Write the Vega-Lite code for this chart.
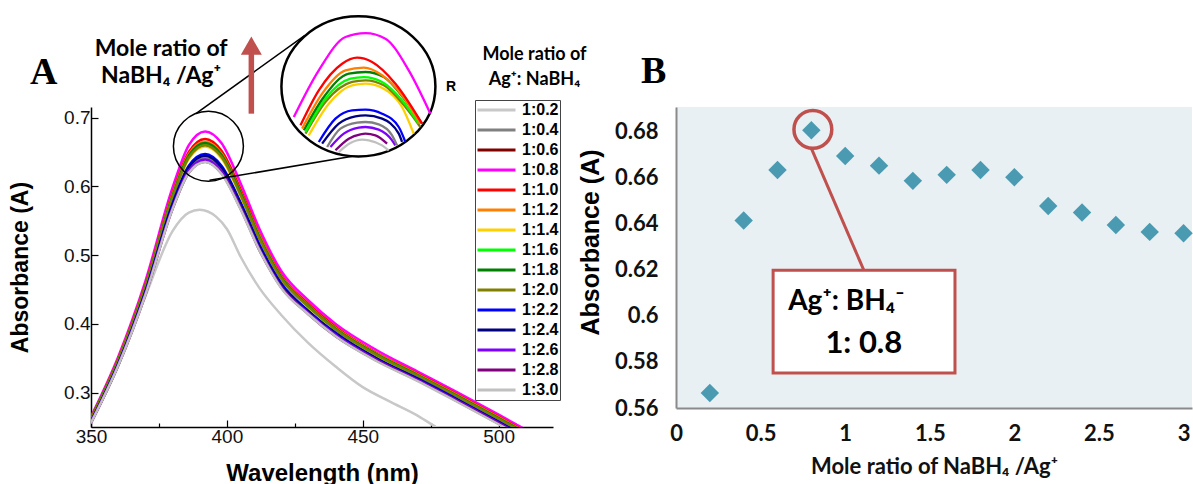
{
  "$schema": "https://vega.github.io/schema/vega-lite/v6.json",
  "padding": {"left": 9, "top": 11, "right": 0, "bottom": 0},
  "background": "white",
  "bounds": "flush",
  "spacing": 123,
  "config": {"view": {"stroke": null}, "font": "Liberation Sans", "axis": {"grid": false}},
  "hconcat": [
    {
      "width": 462,
      "height": 320,
      "layer": [
        {
          "data": {"values": [
            {"s":"1:0.2","w":350,"a":0.255},{"s":"1:0.2","w":360,"a":0.340},{"s":"1:0.2","w":370,"a":0.440},{"s":"1:0.2","w":380,"a":0.535},{"s":"1:0.2","w":386,"a":0.562},{"s":"1:0.2","w":390,"a":0.566},{"s":"1:0.2","w":396,"a":0.556},{"s":"1:0.2","w":400,"a":0.538},{"s":"1:0.2","w":405,"a":0.498},{"s":"1:0.2","w":412,"a":0.452},{"s":"1:0.2","w":420,"a":0.413},{"s":"1:0.2","w":430,"a":0.372},{"s":"1:0.2","w":440,"a":0.338},{"s":"1:0.2","w":450,"a":0.308},{"s":"1:0.2","w":460,"a":0.287},{"s":"1:0.2","w":470,"a":0.267},{"s":"1:0.2","w":477,"a":0.250},{"s":"1:0.2","w":485,"a":0.236},
            {"s":"1:0.4","w":350,"a":0.257},{"s":"1:0.4","w":360,"a":0.340},{"s":"1:0.4","w":370,"a":0.444},{"s":"1:0.4","w":380,"a":0.571},{"s":"1:0.4","w":386,"a":0.625},{"s":"1:0.4","w":392,"a":0.641},{"s":"1:0.4","w":398,"a":0.624},{"s":"1:0.4","w":405,"a":0.572},{"s":"1:0.4","w":412,"a":0.511},{"s":"1:0.4","w":420,"a":0.456},{"s":"1:0.4","w":430,"a":0.416},{"s":"1:0.4","w":440,"a":0.384},{"s":"1:0.4","w":455,"a":0.348},{"s":"1:0.4","w":470,"a":0.319},{"s":"1:0.4","w":485,"a":0.288},{"s":"1:0.4","w":500,"a":0.256},{"s":"1:0.4","w":510,"a":0.234},
            {"s":"1:0.6","w":350,"a":0.262},{"s":"1:0.6","w":360,"a":0.347},{"s":"1:0.6","w":370,"a":0.454},{"s":"1:0.6","w":380,"a":0.586},{"s":"1:0.6","w":386,"a":0.645},{"s":"1:0.6","w":392,"a":0.663},{"s":"1:0.6","w":398,"a":0.646},{"s":"1:0.6","w":405,"a":0.591},{"s":"1:0.6","w":412,"a":0.526},{"s":"1:0.6","w":420,"a":0.468},{"s":"1:0.6","w":430,"a":0.426},{"s":"1:0.6","w":440,"a":0.393},{"s":"1:0.6","w":455,"a":0.356},{"s":"1:0.6","w":470,"a":0.326},{"s":"1:0.6","w":485,"a":0.295},{"s":"1:0.6","w":500,"a":0.263},{"s":"1:0.6","w":510,"a":0.241},
            {"s":"1:0.8","w":350,"a":0.265},{"s":"1:0.8","w":360,"a":0.352},{"s":"1:0.8","w":370,"a":0.462},{"s":"1:0.8","w":380,"a":0.598},{"s":"1:0.8","w":386,"a":0.660},{"s":"1:0.8","w":392,"a":0.680},{"s":"1:0.8","w":398,"a":0.663},{"s":"1:0.8","w":405,"a":0.605},{"s":"1:0.8","w":412,"a":0.538},{"s":"1:0.8","w":420,"a":0.477},{"s":"1:0.8","w":430,"a":0.434},{"s":"1:0.8","w":440,"a":0.400},{"s":"1:0.8","w":455,"a":0.362},{"s":"1:0.8","w":470,"a":0.331},{"s":"1:0.8","w":485,"a":0.300},{"s":"1:0.8","w":500,"a":0.268},{"s":"1:0.8","w":510,"a":0.246},
            {"s":"1:1.0","w":350,"a":0.263},{"s":"1:1.0","w":360,"a":0.349},{"s":"1:1.0","w":370,"a":0.457},{"s":"1:1.0","w":380,"a":0.590},{"s":"1:1.0","w":386,"a":0.650},{"s":"1:1.0","w":392,"a":0.669},{"s":"1:1.0","w":398,"a":0.652},{"s":"1:1.0","w":405,"a":0.596},{"s":"1:1.0","w":412,"a":0.530},{"s":"1:1.0","w":420,"a":0.471},{"s":"1:1.0","w":430,"a":0.429},{"s":"1:1.0","w":440,"a":0.396},{"s":"1:1.0","w":455,"a":0.358},{"s":"1:1.0","w":470,"a":0.328},{"s":"1:1.0","w":485,"a":0.297},{"s":"1:1.0","w":500,"a":0.265},{"s":"1:1.0","w":510,"a":0.243},
            {"s":"1:1.2","w":350,"a":0.262},{"s":"1:1.2","w":360,"a":0.348},{"s":"1:1.2","w":370,"a":0.455},{"s":"1:1.2","w":380,"a":0.588},{"s":"1:1.2","w":386,"a":0.647},{"s":"1:1.2","w":392,"a":0.665},{"s":"1:1.2","w":398,"a":0.648},{"s":"1:1.2","w":405,"a":0.592},{"s":"1:1.2","w":412,"a":0.528},{"s":"1:1.2","w":420,"a":0.469},{"s":"1:1.2","w":430,"a":0.427},{"s":"1:1.2","w":440,"a":0.394},{"s":"1:1.2","w":455,"a":0.357},{"s":"1:1.2","w":470,"a":0.327},{"s":"1:1.2","w":485,"a":0.296},{"s":"1:1.2","w":500,"a":0.264},{"s":"1:1.2","w":510,"a":0.242},
            {"s":"1:1.4","w":350,"a":0.261},{"s":"1:1.4","w":360,"a":0.345},{"s":"1:1.4","w":370,"a":0.452},{"s":"1:1.4","w":380,"a":0.583},{"s":"1:1.4","w":386,"a":0.640},{"s":"1:1.4","w":392,"a":0.658},{"s":"1:1.4","w":398,"a":0.641},{"s":"1:1.4","w":405,"a":0.586},{"s":"1:1.4","w":412,"a":0.523},{"s":"1:1.4","w":420,"a":0.465},{"s":"1:1.4","w":430,"a":0.424},{"s":"1:1.4","w":440,"a":0.391},{"s":"1:1.4","w":455,"a":0.354},{"s":"1:1.4","w":470,"a":0.324},{"s":"1:1.4","w":485,"a":0.293},{"s":"1:1.4","w":500,"a":0.261},{"s":"1:1.4","w":510,"a":0.239},
            {"s":"1:1.6","w":350,"a":0.261},{"s":"1:1.6","w":360,"a":0.346},{"s":"1:1.6","w":370,"a":0.453},{"s":"1:1.6","w":380,"a":0.585},{"s":"1:1.6","w":386,"a":0.643},{"s":"1:1.6","w":392,"a":0.661},{"s":"1:1.6","w":398,"a":0.644},{"s":"1:1.6","w":405,"a":0.589},{"s":"1:1.6","w":412,"a":0.525},{"s":"1:1.6","w":420,"a":0.467},{"s":"1:1.6","w":430,"a":0.425},{"s":"1:1.6","w":440,"a":0.392},{"s":"1:1.6","w":455,"a":0.355},{"s":"1:1.6","w":470,"a":0.325},{"s":"1:1.6","w":485,"a":0.294},{"s":"1:1.6","w":500,"a":0.262},{"s":"1:1.6","w":510,"a":0.240},
            {"s":"1:1.8","w":350,"a":0.262},{"s":"1:1.8","w":360,"a":0.347},{"s":"1:1.8","w":370,"a":0.454},{"s":"1:1.8","w":380,"a":0.586},{"s":"1:1.8","w":386,"a":0.645},{"s":"1:1.8","w":392,"a":0.663},{"s":"1:1.8","w":398,"a":0.646},{"s":"1:1.8","w":405,"a":0.591},{"s":"1:1.8","w":412,"a":0.526},{"s":"1:1.8","w":420,"a":0.468},{"s":"1:1.8","w":430,"a":0.426},{"s":"1:1.8","w":440,"a":0.393},{"s":"1:1.8","w":455,"a":0.356},{"s":"1:1.8","w":470,"a":0.326},{"s":"1:1.8","w":485,"a":0.295},{"s":"1:1.8","w":500,"a":0.263},{"s":"1:1.8","w":510,"a":0.241},
            {"s":"1:2.0","w":350,"a":0.261},{"s":"1:2.0","w":360,"a":0.346},{"s":"1:2.0","w":370,"a":0.453},{"s":"1:2.0","w":380,"a":0.584},{"s":"1:2.0","w":386,"a":0.642},{"s":"1:2.0","w":392,"a":0.660},{"s":"1:2.0","w":398,"a":0.643},{"s":"1:2.0","w":405,"a":0.588},{"s":"1:2.0","w":412,"a":0.524},{"s":"1:2.0","w":420,"a":0.466},{"s":"1:2.0","w":430,"a":0.425},{"s":"1:2.0","w":440,"a":0.392},{"s":"1:2.0","w":455,"a":0.355},{"s":"1:2.0","w":470,"a":0.325},{"s":"1:2.0","w":485,"a":0.294},{"s":"1:2.0","w":500,"a":0.262},{"s":"1:2.0","w":510,"a":0.240},
            {"s":"1:2.2","w":350,"a":0.258},{"s":"1:2.2","w":360,"a":0.342},{"s":"1:2.2","w":370,"a":0.447},{"s":"1:2.2","w":380,"a":0.575},{"s":"1:2.2","w":386,"a":0.630},{"s":"1:2.2","w":392,"a":0.647},{"s":"1:2.2","w":398,"a":0.630},{"s":"1:2.2","w":405,"a":0.577},{"s":"1:2.2","w":412,"a":0.515},{"s":"1:2.2","w":420,"a":0.459},{"s":"1:2.2","w":430,"a":0.419},{"s":"1:2.2","w":440,"a":0.387},{"s":"1:2.2","w":455,"a":0.350},{"s":"1:2.2","w":470,"a":0.321},{"s":"1:2.2","w":485,"a":0.290},{"s":"1:2.2","w":500,"a":0.258},{"s":"1:2.2","w":510,"a":0.236},
            {"s":"1:2.4","w":350,"a":0.258},{"s":"1:2.4","w":360,"a":0.341},{"s":"1:2.4","w":370,"a":0.446},{"s":"1:2.4","w":380,"a":0.573},{"s":"1:2.4","w":386,"a":0.628},{"s":"1:2.4","w":392,"a":0.6445},{"s":"1:2.4","w":398,"a":0.6275},{"s":"1:2.4","w":405,"a":0.575},{"s":"1:2.4","w":412,"a":0.513},{"s":"1:2.4","w":420,"a":0.457},{"s":"1:2.4","w":430,"a":0.418},{"s":"1:2.4","w":440,"a":0.386},{"s":"1:2.4","w":455,"a":0.350},{"s":"1:2.4","w":470,"a":0.320},{"s":"1:2.4","w":485,"a":0.289},{"s":"1:2.4","w":500,"a":0.257},{"s":"1:2.4","w":510,"a":0.235},
            {"s":"1:2.6","w":350,"a":0.257},{"s":"1:2.6","w":360,"a":0.340},{"s":"1:2.6","w":370,"a":0.444},{"s":"1:2.6","w":380,"a":0.569},{"s":"1:2.6","w":386,"a":0.623},{"s":"1:2.6","w":392,"a":0.639},{"s":"1:2.6","w":398,"a":0.622},{"s":"1:2.6","w":405,"a":0.570},{"s":"1:2.6","w":412,"a":0.509},{"s":"1:2.6","w":420,"a":0.454},{"s":"1:2.6","w":430,"a":0.416},{"s":"1:2.6","w":440,"a":0.384},{"s":"1:2.6","w":455,"a":0.348},{"s":"1:2.6","w":470,"a":0.319},{"s":"1:2.6","w":485,"a":0.288},{"s":"1:2.6","w":500,"a":0.256},{"s":"1:2.6","w":510,"a":0.234},
            {"s":"1:2.8","w":350,"a":0.256},{"s":"1:2.8","w":360,"a":0.339},{"s":"1:2.8","w":370,"a":0.442},{"s":"1:2.8","w":380,"a":0.567},{"s":"1:2.8","w":386,"a":0.620},{"s":"1:2.8","w":392,"a":0.636},{"s":"1:2.8","w":398,"a":0.619},{"s":"1:2.8","w":405,"a":0.568},{"s":"1:2.8","w":412,"a":0.507},{"s":"1:2.8","w":420,"a":0.453},{"s":"1:2.8","w":430,"a":0.414},{"s":"1:2.8","w":440,"a":0.382},{"s":"1:2.8","w":455,"a":0.347},{"s":"1:2.8","w":470,"a":0.318},{"s":"1:2.8","w":485,"a":0.287},{"s":"1:2.8","w":500,"a":0.255},{"s":"1:2.8","w":510,"a":0.233},
            {"s":"1:3.0","w":350,"a":0.256},{"s":"1:3.0","w":360,"a":0.339},{"s":"1:3.0","w":370,"a":0.442},{"s":"1:3.0","w":380,"a":0.567},{"s":"1:3.0","w":386,"a":0.620},{"s":"1:3.0","w":392,"a":0.6355},{"s":"1:3.0","w":398,"a":0.6185},{"s":"1:3.0","w":405,"a":0.567},{"s":"1:3.0","w":412,"a":0.507},{"s":"1:3.0","w":420,"a":0.452},{"s":"1:3.0","w":430,"a":0.414},{"s":"1:3.0","w":440,"a":0.382},{"s":"1:3.0","w":455,"a":0.346},{"s":"1:3.0","w":470,"a":0.317},{"s":"1:3.0","w":485,"a":0.286},{"s":"1:3.0","w":500,"a":0.254},{"s":"1:3.0","w":510,"a":0.232}
          ]},
          "mark": {"type": "line", "interpolate": "monotone", "strokeWidth": 2.5, "clip": true},
          "encoding": {
            "x": {"field": "w", "type": "quantitative", "scale": {"domain": [350, 520], "nice": false, "zero": false},
              "axis": {"title": "Wavelength (nm)", "values": [350, 375, 400, 425, 450, 475, 500],
                "labelExpr": "datum.value % 50 == 0 ? datum.label : ''", "labelFlush": false,
                "tickSize": {"condition": {"test": "datum.value % 50 == 0", "value": -7}, "value": -4},
                "tickColor": "#000", "tickWidth": 1.2, "domainColor": "#000", "domainWidth": 1.5,
                "labelFont": "Liberation Sans", "labelFontSize": 19, "labelColor": "#111", "labelPadding": 7,
                "titleFont": "Liberation Sans", "titleFontSize": 24, "titleFontWeight": "bold", "titleColor": "#000",
                "titleY": 46, "titleBaseline": "middle"}},
            "y": {"field": "a", "type": "quantitative", "scale": {"domain": [0.25, 0.7155], "nice": false, "zero": false},
              "axis": {"title": "Absorbance (A)", "values": [0.3, 0.35, 0.4, 0.45, 0.5, 0.55, 0.6, 0.65, 0.7],
                "labelExpr": "abs(datum.value*10-round(datum.value*10)) < 0.001 ? format(datum.value, '.1f') : ''", "labelFlush": false,
                "tickSize": {"condition": {"test": "abs(datum.value*10-round(datum.value*10)) < 0.001", "value": -7}, "value": -4},
                "tickColor": "#000", "tickWidth": 1.2, "domainColor": "#000", "domainWidth": 1.5,
                "labelFont": "Liberation Sans", "labelFontSize": 19, "labelColor": "#111", "labelPadding": 8,
                "titleFont": "Liberation Sans", "titleFontSize": 23, "titleFontWeight": "bold", "titleColor": "#000",
                "titleX": -71, "titleBaseline": "middle"}},
            "color": {"field": "s", "type": "nominal",
              "scale": {"domain": ["1:0.2","1:0.4","1:0.6","1:0.8","1:1.0","1:1.2","1:1.4","1:1.6","1:1.8","1:2.0","1:2.2","1:2.4","1:2.6","1:2.8","1:3.0"],
                "range": ["#c8c8c8","#808080","#800000","#ff00ff","#ff0000","#ff8000","#ffd000","#00ff00","#008000","#808000","#0000ff","#000080","#8000ff","#800080","#c0c0c0"]},
              "legend": {"orient": "none", "legendX": 384, "legendY": -7, "title": null, "strokeColor": "#444", "fillColor": "white",
                "padding": 1, "symbolType": "stroke", "symbolStrokeWidth": 3, "symbolSize": 1444, "labelFont": "Liberation Sans",
                "labelFontWeight": "bold", "labelFontSize": 16, "labelColor": "#000", "labelOffset": 5, "clipHeight": 18, "rowPadding": 2}}
          }
        },
        {
          "data": {"values": [{"w": 393.2, "a": 0.6585}]},
          "mark": {"type": "point", "shape": "circle", "size": 4900, "filled": false, "stroke": "#000", "strokeWidth": 1.5, "opacity": 1},
          "encoding": {"x": {"field": "w", "type": "quantitative"}, "y": {"field": "a", "type": "quantitative"}}
        },
        {
          "data": {"values": [{"w": 388.6, "a": 0.7058, "w2": 428.7, "a2": 0.8197}, {"w": 393.6, "a": 0.6088, "w2": 448.4, "a2": 0.6452}]},
          "mark": {"type": "rule", "color": "#000", "strokeWidth": 1.5},
          "encoding": {"x": {"field": "w", "type": "quantitative"}, "y": {"field": "a", "type": "quantitative"}, "x2": {"field": "w2"}, "y2": {"field": "a2"}}
        },
        {
          "data": {"values": [{"w": 448.4, "a": 0.7455}]},
          "mark": {"type": "point", "shape": "M -1 0 A 1 0.91 0 1 0 1 0 A 1 0.91 0 1 0 -1 0 Z", "size": 23716, "filled": false, "fill": "white", "fillOpacity": 1, "stroke": "#000", "strokeWidth": 2.5, "opacity": 1},
          "encoding": {"x": {"field": "w", "type": "quantitative"}, "y": {"field": "a", "type": "quantitative"}}
        },
        {
          "data": {"values": [
            {"s":"1:3.0","w":441.18,"a":0.6500},{"s":"1:3.0","w":445.46,"a":0.6631},{"s":"1:3.0","w":449.75,"a":0.6680},{"s":"1:3.0","w":452.21,"a":0.6670},{"s":"1:3.0","w":457.11,"a":0.6597},{"s":"1:3.0","w":459.56,"a":0.6525},
            {"s":"1:2.8","w":439.95,"a":0.6525},{"s":"1:2.8","w":444.85,"a":0.6694},{"s":"1:2.8","w":449.14,"a":0.6757},{"s":"1:2.8","w":450.98,"a":0.6767},{"s":"1:2.8","w":454.66,"a":0.6743},{"s":"1:2.8","w":458.95,"a":0.6622},
            {"s":"1:2.6","w":438.11,"a":0.6573},{"s":"1:2.6","w":443.01,"a":0.6767},{"s":"1:2.6","w":448.53,"a":0.6854},{"s":"1:2.6","w":450.98,"a":0.6864},{"s":"1:2.6","w":455.88,"a":0.6825},{"s":"1:2.6","w":460.78,"a":0.6670},{"s":"1:2.6","w":462.01,"a":0.6597},
            {"s":"1:0.4","w":436.89,"a":0.6573},{"s":"1:0.4","w":441.79,"a":0.6840},{"s":"1:0.4","w":447.92,"a":0.6927},{"s":"1:0.4","w":450.98,"a":0.6937},{"s":"1:0.4","w":455.88,"a":0.6903},{"s":"1:0.4","w":460.78,"a":0.6743},{"s":"1:0.4","w":462.62,"a":0.6597},
            {"s":"1:2.4","w":435.05,"a":0.6622},{"s":"1:2.4","w":441.18,"a":0.6913},{"s":"1:2.4","w":447.30,"a":0.7019},{"s":"1:2.4","w":450.98,"a":0.7034},{"s":"1:2.4","w":457.11,"a":0.6985},{"s":"1:2.4","w":463.24,"a":0.6767},{"s":"1:2.4","w":464.46,"a":0.6646},
            {"s":"1:2.2","w":433.82,"a":0.6646},{"s":"1:2.2","w":439.95,"a":0.6985},{"s":"1:2.2","w":446.08,"a":0.7106},{"s":"1:2.2","w":450.98,"a":0.7116},{"s":"1:2.2","w":457.11,"a":0.7058},{"s":"1:2.2","w":463.24,"a":0.6864},{"s":"1:2.2","w":465.69,"a":0.6646},
            {"s":"1:1.4","w":430.15,"a":0.6743},{"s":"1:1.4","w":437.50,"a":0.7203},{"s":"1:1.4","w":446.08,"a":0.7470},{"s":"1:1.4","w":450.98,"a":0.7494},{"s":"1:1.4","w":457.72,"a":0.7422},{"s":"1:1.4","w":464.46,"a":0.7155},{"s":"1:1.4","w":468.75,"a":0.6767},
            {"s":"1:2.0","w":428.92,"a":0.6767},{"s":"1:2.0","w":436.27,"a":0.7228},{"s":"1:2.0","w":446.08,"a":0.7519},{"s":"1:2.0","w":450.98,"a":0.7543},{"s":"1:2.0","w":457.72,"a":0.7470},{"s":"1:2.0","w":465.69,"a":0.7155},{"s":"1:2.0","w":471.20,"a":0.6864},
            {"s":"1:1.6","w":428.92,"a":0.6791},{"s":"1:1.6","w":436.27,"a":0.7276},{"s":"1:1.6","w":445.46,"a":0.7567},{"s":"1:1.6","w":450.37,"a":0.7591},{"s":"1:1.6","w":457.11,"a":0.7519},{"s":"1:1.6","w":464.46,"a":0.7252},{"s":"1:1.6","w":470.59,"a":0.6913},
            {"s":"1:1.8","w":428.31,"a":0.6816},{"s":"1:1.8","w":435.66,"a":0.7300},{"s":"1:1.8","w":444.85,"a":0.7640},{"s":"1:1.8","w":450.98,"a":0.7664},{"s":"1:1.8","w":457.72,"a":0.7591},{"s":"1:1.8","w":465.69,"a":0.7252},{"s":"1:1.8","w":471.81,"a":0.6913},
            {"s":"1:1.2","w":427.70,"a":0.6840},{"s":"1:1.2","w":435.05,"a":0.7349},{"s":"1:1.2","w":443.63,"a":0.7688},{"s":"1:1.2","w":450.37,"a":0.7727},{"s":"1:1.2","w":457.11,"a":0.7616},{"s":"1:1.2","w":464.46,"a":0.7325},{"s":"1:1.2","w":471.20,"a":0.6913},
            {"s":"1:1.0","w":427.08,"a":0.6888},{"s":"1:1.0","w":433.82,"a":0.7397},{"s":"1:1.0","w":442.40,"a":0.7785},{"s":"1:1.0","w":447.92,"a":0.7873},{"s":"1:1.0","w":453.43,"a":0.7810},{"s":"1:1.0","w":462.01,"a":0.7494},{"s":"1:1.0","w":471.81,"a":0.6913},
            {"s":"1:0.8","w":424.63,"a":0.7009},{"s":"1:0.8","w":433.82,"a":0.7688},{"s":"1:0.8","w":443.63,"a":0.8173},{"s":"1:0.8","w":450.98,"a":0.8231},{"s":"1:0.8","w":458.33,"a":0.8149},{"s":"1:0.8","w":466.91,"a":0.7688},{"s":"1:0.8","w":474.88,"a":0.7058}
          ]},
          "mark": {"type": "line", "interpolate": "monotone", "strokeWidth": 2.3},
          "encoding": {"x": {"field": "w", "type": "quantitative"}, "y": {"field": "a", "type": "quantitative"}, "color": {"field": "s", "type": "nominal"}}
        },
        {
          "data": {"values": [{"w": 409.0, "a": 0.7058, "a2": 0.800}]},
          "mark": {"type": "rule", "color": "#c0504d", "strokeWidth": 5.5},
          "encoding": {"x": {"field": "w", "type": "quantitative"}, "y": {"field": "a", "type": "quantitative"}, "y2": {"field": "a2"}}
        },
        {
          "data": {"values": [{"w": 409.0, "a": 0.8047}]},
          "mark": {"type": "point", "shape": "triangle-up", "size": 441, "filled": true, "color": "#c0504d", "opacity": 1},
          "encoding": {"x": {"field": "w", "type": "quantitative"}, "y": {"field": "a", "type": "quantitative"}}
        },
        {
          "data": {"values": [{"w": 332.56, "a": 0.7495, "t": "A"}]},
          "mark": {"type": "text", "font": "Liberation Serif", "fontWeight": "bold", "fontSize": 38, "align": "center", "baseline": "alphabetic", "color": "#000"},
          "encoding": {"x": {"field": "w", "type": "quantitative"}, "y": {"field": "a", "type": "quantitative"}, "text": {"field": "t"}}
        },
        {
          "data": {"values": [{"w": 375.8, "a": 0.790, "t": "Mole ratio of"}, {"w": 375.8, "a": 0.751, "t": "NaBH₄ /Ag⁺"}]},
          "mark": {"type": "text", "font": "Lato", "fontWeight": "bold", "fontSize": 23, "align": "center", "baseline": "alphabetic", "color": "#000"},
          "encoding": {"x": {"field": "w", "type": "quantitative"}, "y": {"field": "a", "type": "quantitative"}, "text": {"field": "t"}}
        },
        {
          "data": {"values": [{"w": 513.2, "a": 0.7833, "t": "Mole ratio of"}, {"w": 513.2, "a": 0.747, "t": "Ag⁺: NaBH₄"}]},
          "mark": {"type": "text", "font": "Lato", "fontWeight": "bold", "fontSize": 18, "align": "center", "baseline": "alphabetic", "color": "#000"},
          "encoding": {"x": {"field": "w", "type": "quantitative"}, "y": {"field": "a", "type": "quantitative"}, "text": {"field": "t"}}
        },
        {
          "data": {"values": [{"w": 480.6, "a": 0.7388, "t": "R"}]},
          "mark": {"type": "text", "font": "Liberation Sans", "fontWeight": "bold", "fontSize": 14, "align": "left", "baseline": "alphabetic", "color": "#000"},
          "encoding": {"x": {"field": "w", "type": "quantitative"}, "y": {"field": "a", "type": "quantitative"}, "text": {"field": "t"}}
        }
      ]
    },
    {
      "width": 516,
      "height": 301,
      "view": {"fill": "#e9f0f4", "stroke": null},
      "layer": [
        {
          "data": {"values": [
            {"r": 0.2, "a": 0.5665}, {"r": 0.4, "a": 0.6412}, {"r": 0.6, "a": 0.6631}, {"r": 0.8, "a": 0.6803}, {"r": 1.0, "a": 0.6692},
            {"r": 1.2, "a": 0.665}, {"r": 1.4, "a": 0.6584}, {"r": 1.6, "a": 0.661}, {"r": 1.8, "a": 0.6631}, {"r": 2.0, "a": 0.66},
            {"r": 2.2, "a": 0.6475}, {"r": 2.4, "a": 0.6447}, {"r": 2.6, "a": 0.6393}, {"r": 2.8, "a": 0.6363}, {"r": 3.0, "a": 0.6357}
          ]},
          "mark": {"type": "point", "shape": "diamond", "filled": true, "size": 340, "color": "#4a9bb1", "opacity": 1},
          "encoding": {
            "x": {"field": "r", "type": "quantitative", "scale": {"domain": [0, 3.05], "nice": false, "zero": false},
              "axis": {"title": "Mole ratio of NaBH₄ /Ag⁺", "values": [0, 0.5, 1, 1.5, 2, 2.5, 3], "format": "~g", "ticks": false, "labelFlush": false,
                "domainColor": "#8a8a8a", "domainWidth": 2, "labelFont": "Lato", "labelFontWeight": "bold", "labelFontSize": 22,
                "labelColor": "#111", "labelPadding": 15, "titleFont": "Lato", "titleFontWeight": "bold", "titleFontSize": 22,
                "titleColor": "#111", "titleY": 58, "titleBaseline": "middle"}},
            "y": {"field": "a", "type": "quantitative", "scale": {"domain": [0.56, 0.6904], "nice": false, "zero": false},
              "axis": {"title": "Absorbance (A)", "values": [0.56, 0.58, 0.6, 0.62, 0.64, 0.66, 0.68], "format": "~g", "ticks": false, "labelFlush": false,
                "domainColor": "#8a8a8a", "domainWidth": 2, "labelFont": "Lato", "labelFontWeight": "bold", "labelFontSize": 22,
                "labelColor": "#111", "labelPadding": 18, "titleFont": "Liberation Sans", "titleFontWeight": "bold", "titleFontSize": 25,
                "titleColor": "#000", "titleX": -86, "titleY": 135, "titleBaseline": "middle"}}
          }
        },
        {
          "data": {"values": [{"r": 0.80, "a": 0.6725, "r2": 1.11, "a2": 0.6197}]},
          "mark": {"type": "rule", "color": "#c0504d", "strokeWidth": 3},
          "encoding": {"x": {"field": "r", "type": "quantitative"}, "y": {"field": "a", "type": "quantitative"}, "x2": {"field": "r2"}, "y2": {"field": "a2"}}
        },
        {
          "data": {"values": [{"r": 0.574, "a": 0.6197, "r2": 1.649, "a2": 0.5752}]},
          "mark": {"type": "rect", "fill": "white", "stroke": "#c0504d", "strokeWidth": 3},
          "encoding": {"x": {"field": "r", "type": "quantitative"}, "y": {"field": "a", "type": "quantitative"}, "x2": {"field": "r2"}, "y2": {"field": "a2"}}
        },
        {
          "data": {"values": [{"r": 0.663, "a": 0.6025, "t": "Ag⁺: BH₄⁻"}]},
          "mark": {"type": "text", "font": "Lato", "fontWeight": "bold", "fontSize": 28, "align": "left", "baseline": "alphabetic", "color": "#000"},
          "encoding": {"x": {"field": "r", "type": "quantitative"}, "y": {"field": "a", "type": "quantitative"}, "text": {"field": "t"}}
        },
        {
          "data": {"values": [{"r": 1.11, "a": 0.5838, "t": "1: 0.8"}]},
          "mark": {"type": "text", "font": "Lato", "fontWeight": "bold", "fontSize": 31, "align": "center", "baseline": "alphabetic", "color": "#000"},
          "encoding": {"x": {"field": "r", "type": "quantitative"}, "y": {"field": "a", "type": "quantitative"}, "text": {"field": "t"}}
        },
        {
          "data": {"values": [{"r": 0.809, "a": 0.6807}]},
          "mark": {"type": "point", "shape": "circle", "size": 1430, "filled": false, "stroke": "#c0504d", "strokeWidth": 3.5, "opacity": 1},
          "encoding": {"x": {"field": "r", "type": "quantitative"}, "y": {"field": "a", "type": "quantitative"}}
        },
        {
          "data": {"values": [{"r": -0.132, "a": 0.7006, "t": "B"}]},
          "mark": {"type": "text", "font": "Liberation Serif", "fontWeight": "bold", "fontSize": 38, "align": "center", "baseline": "alphabetic", "color": "#000"},
          "encoding": {"x": {"field": "r", "type": "quantitative"}, "y": {"field": "a", "type": "quantitative"}, "text": {"field": "t"}}
        }
      ]
    }
  ]
}
